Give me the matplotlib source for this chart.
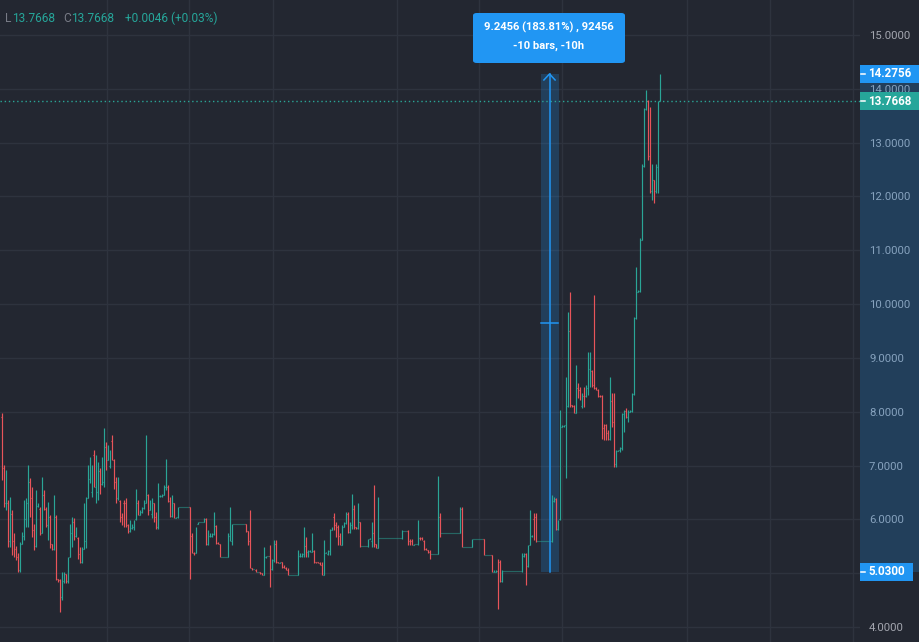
import matplotlib
matplotlib.use("Agg")
import matplotlib.pyplot as plt
import matplotlib.patches as mpatches
import matplotlib.transforms as mtransforms
from matplotlib.collections import LineCollection

plt.rcParams['font.family'] = ['Roboto', 'DejaVu Sans']

# ---------------- data (hourly OHLC bars) ----------------
opens = [
    7.90, 6.95, 6.30, 6.30, 5.60, 6.10, 5.60, 5.45, 5.30, 5.05,
    5.55, 5.70, 6.00, 6.30, 6.70, 6.40, 5.80, 5.50, 6.25, 6.20,
    5.75, 6.45, 6.20, 5.90, 6.05, 5.55, 5.45, 6.05, 4.90, 4.88,
    4.55, 4.85, 4.98, 4.85, 5.30, 5.75, 5.95, 5.70, 5.65, 5.35,
    5.20, 5.45, 5.60, 6.40, 6.75, 6.50, 7.20, 6.60, 6.50, 6.90,
    6.65, 6.70, 7.35, 7.10, 7.00, 7.45, 7.10, 6.70, 6.40, 6.35,
    6.05, 6.30, 6.30, 5.90, 5.78, 5.84, 5.85, 6.00, 6.30, 6.09,
    6.13, 6.21, 6.30, 6.45, 6.18, 6.10, 6.30, 6.05, 5.85, 6.43,
    6.43, 6.46, 6.60, 6.60, 6.35, 6.07, 6.30, 6.03, 6.05, 6.23,
    6.23, 6.23, 6.23, 6.23, 6.23, 5.70, 5.38, 5.37, 5.92, 5.95,
    5.95, 5.95, 6.00, 5.55, 5.69, 5.70, 5.72, 5.88, 5.57, 5.55,
    5.30, 5.30, 5.30, 5.30, 5.70, 5.60, 5.91, 5.91, 5.91, 5.91,
    5.91, 5.91, 5.91, 5.78, 5.60, 5.09, 5.07, 5.06, 5.03, 5.03,
    5.00, 4.97, 5.30, 5.31, 5.31, 5.08, 5.25, 5.55, 5.20, 5.19,
    5.21, 5.12, 5.09, 5.06, 4.96, 4.96, 4.96, 4.96, 4.96, 5.31,
    5.32, 5.36, 5.50, 5.40, 5.41, 5.40, 5.42, 5.20, 5.20, 5.19,
    5.16, 4.97, 5.38, 5.36, 5.42, 5.81, 6.05, 5.90, 5.85, 5.70,
    5.53, 5.86, 5.93, 6.10, 5.76, 5.90, 6.20, 5.86, 5.84, 5.95,
    5.50, 5.50, 5.50, 5.50, 5.64, 5.60, 5.75, 5.54, 5.47, 5.66,
    5.66, 5.66, 5.66, 5.66, 5.66, 5.66, 5.66, 5.66, 5.66, 5.66,
    5.66, 5.79, 5.79, 5.79, 5.60, 5.60, 5.53, 5.55, 5.55, 5.66,
    5.66, 5.60, 5.45, 5.43, 5.40, 5.35, 5.35, 5.35, 5.35, 6.05,
    5.75, 5.75, 5.75, 5.75, 5.75, 5.75, 5.75, 5.75, 5.75, 5.75,
    6.20, 5.49, 5.49, 5.49, 5.49, 5.49, 5.64, 5.64, 5.64, 5.64,
    5.64, 5.64, 5.33, 5.33, 5.33, 5.33, 5.03, 5.03, 5.04, 5.20,
    4.86, 5.04, 5.04, 5.04, 5.04, 5.04, 5.04, 5.04, 5.04, 5.04,
    5.04, 5.31, 5.35, 5.13, 5.52, 5.69, 6.00, 6.05, 5.60, 5.60,
    5.60, 5.60, 5.60, 5.60, 5.60, 5.60, 6.34, 6.38, 5.82, 6.00,
    7.72, 7.73, 7.75, 8.10, 9.50, 8.12, 8.10, 7.98, 8.45, 8.40,
    8.10, 8.30, 8.30, 8.45, 8.80, 8.75, 8.50, 8.45, 8.41, 8.30,
    8.29, 7.70, 7.75, 7.60, 7.50, 8.20, 7.80, 7.02, 7.27, 7.28,
    7.33, 7.95, 8.02, 7.90, 8.00, 8.02, 8.33, 9.74, 10.23, 10.25,
    11.20, 12.56, 13.62, 13.78, 12.75, 12.10, 12.30, 12.10, 12.55, 13.7668,
]
highs = [
    7.97, 7.01, 6.91, 6.36, 6.42, 6.17, 5.74, 5.50, 5.37, 5.58,
    5.77, 6.36, 6.40, 7.01, 6.76, 6.61, 5.92, 6.54, 6.30, 6.23,
    6.79, 6.54, 6.23, 6.33, 6.08, 5.55, 6.45, 6.08, 4.90, 4.90,
    5.03, 5.03, 4.99, 5.30, 5.92, 6.05, 6.02, 5.86, 5.68, 5.49,
    5.49, 6.30, 6.42, 7.01, 7.16, 7.01, 7.29, 7.19, 7.07, 6.95,
    7.16, 7.69, 7.44, 7.38, 7.29, 7.57, 7.13, 6.79, 6.79, 6.36,
    6.11, 6.36, 6.39, 5.92, 5.99, 5.92, 5.99, 6.57, 6.36, 6.17,
    6.23, 6.36, 7.57, 6.48, 6.36, 6.39, 6.30, 6.14, 6.67, 6.45,
    6.48, 6.64, 7.13, 6.64, 6.42, 6.45, 6.30, 6.05, 6.23, 6.23,
    6.23, 6.23, 6.23, 6.23, 6.23, 5.74, 5.40, 5.86, 5.95, 5.95,
    5.95, 6.02, 6.02, 5.80, 5.74, 5.74, 6.14, 5.89, 5.58, 5.55,
    5.30, 5.30, 5.30, 5.74, 6.23, 5.92, 5.91, 5.91, 5.91, 5.91,
    5.91, 5.91, 5.91, 5.78, 6.17, 5.10, 5.07, 5.07, 5.03, 5.03,
    5.01, 5.49, 5.31, 5.31, 5.52, 5.27, 5.61, 5.61, 5.21, 5.21,
    5.21, 5.15, 5.12, 5.09, 4.96, 4.96, 4.96, 4.96, 5.43, 5.37,
    5.37, 5.86, 5.68, 5.43, 5.43, 5.74, 5.43, 5.21, 5.21, 5.21,
    5.21, 5.61, 5.40, 5.43, 5.83, 5.86, 6.11, 5.95, 5.89, 5.74,
    5.89, 5.95, 6.14, 6.14, 5.95, 6.48, 6.26, 5.86, 6.30, 5.95,
    5.50, 5.50, 5.50, 5.64, 5.65, 5.95, 6.63, 5.55, 6.42, 5.66,
    5.66, 5.66, 5.66, 5.66, 5.66, 5.66, 5.66, 5.66, 5.66, 5.66,
    5.80, 5.79, 5.79, 5.80, 5.64, 5.64, 5.55, 5.55, 5.99, 5.68,
    5.68, 5.61, 5.46, 5.43, 5.43, 5.35, 5.35, 5.35, 6.80, 6.11,
    5.75, 5.75, 5.75, 5.75, 5.75, 5.75, 5.75, 5.75, 5.75, 6.23,
    6.23, 5.49, 5.49, 5.49, 5.49, 5.64, 5.64, 5.64, 5.64, 5.64,
    5.64, 5.64, 5.33, 5.33, 5.33, 5.33, 5.05, 5.05, 5.27, 5.24,
    5.05, 5.04, 5.04, 5.04, 5.04, 5.04, 5.04, 5.04, 5.04, 5.04,
    5.37, 5.37, 5.37, 5.52, 6.17, 5.71, 6.11, 6.11, 5.60, 5.60,
    5.60, 5.60, 5.60, 5.60, 5.60, 6.45, 6.42, 6.39, 5.99, 8.03,
    7.75, 7.75, 8.65, 9.86, 10.23, 8.12, 8.12, 8.87, 8.53, 8.46,
    8.34, 8.46, 8.50, 9.11, 9.11, 8.77, 10.17, 8.46, 8.43, 8.31,
    8.31, 7.78, 7.78, 7.66, 8.65, 8.34, 8.34, 7.29, 7.29, 7.35,
    7.97, 8.03, 8.06, 8.03, 8.03, 8.34, 9.76, 10.69, 10.26, 11.22,
    12.60, 13.64, 13.98, 13.80, 13.67, 12.60, 12.30, 12.60, 13.77, 14.2756,
]
lows = [
    6.73, 6.23, 6.17, 5.49, 5.49, 5.34, 5.30, 5.25, 5.03, 5.03,
    5.55, 5.61, 5.85, 5.86, 6.05, 5.68, 5.43, 5.49, 6.23, 5.71,
    5.74, 6.17, 5.86, 5.61, 5.46, 5.43, 5.43, 4.87, 4.84, 4.28,
    4.50, 4.81, 4.81, 4.81, 5.30, 5.49, 5.61, 5.68, 5.27, 5.18,
    5.18, 5.45, 5.46, 6.39, 6.67, 6.42, 6.61, 6.30, 6.36, 6.48,
    6.64, 6.61, 6.91, 7.10, 6.95, 7.10, 6.57, 6.30, 6.36, 5.95,
    5.89, 5.86, 5.86, 5.74, 5.77, 5.83, 5.80, 5.99, 6.08, 6.08,
    6.11, 6.20, 6.30, 6.08, 6.17, 6.02, 5.95, 5.83, 5.83, 6.42,
    6.42, 6.45, 6.54, 6.33, 6.05, 6.05, 6.02, 6.02, 6.02, 6.23,
    6.23, 6.23, 6.23, 6.23, 4.90, 5.37, 5.34, 5.37, 5.92, 5.95,
    5.95, 5.95, 5.52, 5.52, 5.68, 5.68, 5.71, 5.55, 5.55, 5.30,
    5.30, 5.30, 5.30, 5.30, 5.60, 5.52, 5.91, 5.91, 5.91, 5.91,
    5.91, 5.91, 5.77, 5.52, 5.09, 5.06, 5.07, 5.03, 5.03, 4.99,
    4.96, 4.96, 5.29, 5.31, 4.75, 5.06, 5.21, 5.18, 5.18, 5.18,
    5.09, 5.09, 5.06, 4.96, 4.96, 4.96, 4.96, 4.96, 4.96, 5.30,
    5.30, 5.30, 5.30, 5.30, 5.40, 5.40, 5.18, 5.18, 5.18, 5.15,
    4.96, 4.96, 5.37, 5.34, 5.34, 5.80, 5.80, 5.68, 5.52, 5.52,
    5.52, 5.86, 5.92, 5.74, 5.74, 5.83, 5.83, 5.83, 5.83, 5.49,
    5.50, 5.50, 5.50, 5.49, 5.63, 5.49, 5.49, 5.46, 5.46, 5.66,
    5.66, 5.66, 5.66, 5.66, 5.66, 5.66, 5.66, 5.66, 5.66, 5.66,
    5.64, 5.79, 5.79, 5.52, 5.52, 5.52, 5.52, 5.55, 5.52, 5.61,
    5.61, 5.43, 5.43, 5.37, 5.27, 5.35, 5.35, 5.35, 5.35, 5.68,
    5.75, 5.75, 5.75, 5.75, 5.75, 5.75, 5.75, 5.75, 5.75, 5.74,
    5.49, 5.49, 5.49, 5.49, 5.49, 5.49, 5.64, 5.64, 5.64, 5.64,
    5.64, 5.33, 5.33, 5.33, 5.33, 5.02, 5.02, 5.02, 4.34, 4.84,
    4.84, 5.04, 5.04, 5.04, 5.04, 5.04, 5.04, 5.04, 5.04, 5.04,
    5.03, 5.30, 4.78, 5.12, 5.52, 5.68, 5.61, 5.58, 5.60, 5.60,
    5.60, 5.60, 5.60, 5.60, 5.60, 5.58, 6.33, 5.80, 5.80, 5.99,
    7.72, 7.72, 6.76, 8.09, 8.09, 8.09, 7.97, 7.97, 8.25, 8.22,
    8.06, 8.09, 8.28, 8.31, 8.46, 8.46, 8.43, 8.40, 8.28, 8.28,
    7.50, 7.47, 7.47, 7.47, 7.47, 7.72, 6.98, 6.98, 7.27, 7.26,
    7.29, 7.63, 7.88, 7.81, 8.00, 8.00, 8.32, 9.73, 10.23, 10.23,
    11.20, 12.55, 13.60, 12.68, 12.06, 11.93, 11.87, 12.06, 12.06, 13.7668,
]
closes = [
    6.90, 6.30, 6.50, 5.60, 6.30, 5.40, 5.35, 5.30, 5.05, 5.55,
    5.70, 6.20, 6.30, 6.85, 6.10, 5.75, 5.50, 6.30, 6.28, 5.75,
    6.50, 6.25, 5.90, 6.20, 5.55, 5.45, 6.30, 4.95, 4.86, 4.55,
    4.95, 5.00, 4.85, 5.25, 5.80, 5.95, 5.70, 5.80, 5.30, 5.20,
    5.45, 6.20, 6.35, 6.80, 7.00, 6.90, 6.65, 7.00, 6.95, 6.55,
    7.10, 7.30, 6.95, 7.30, 7.25, 7.15, 6.65, 6.35, 6.70, 6.00,
    5.90, 5.90, 5.88, 5.76, 5.95, 5.90, 5.97, 6.40, 6.10, 6.15,
    6.20, 6.30, 6.45, 6.10, 6.30, 6.35, 6.00, 5.85, 6.45, 6.45,
    6.47, 6.60, 6.70, 6.35, 6.07, 6.30, 6.05, 6.05, 6.22, 6.23,
    6.23, 6.23, 6.23, 6.23, 5.40, 5.38, 5.36, 5.85, 5.95, 5.95,
    5.95, 6.00, 5.55, 5.75, 5.72, 5.73, 5.90, 5.57, 5.55, 5.31,
    5.30, 5.30, 5.30, 5.70, 5.95, 5.91, 5.91, 5.91, 5.91, 5.91,
    5.91, 5.91, 5.78, 5.55, 5.10, 5.07, 5.07, 5.03, 5.03, 5.00,
    4.97, 5.30, 5.31, 5.31, 5.08, 5.25, 5.55, 5.20, 5.19, 5.21,
    5.12, 5.09, 5.06, 4.96, 4.96, 4.96, 4.96, 4.96, 5.35, 5.36,
    5.36, 5.50, 5.40, 5.42, 5.43, 5.42, 5.20, 5.19, 5.18, 5.16,
    4.97, 5.40, 5.40, 5.42, 5.80, 5.85, 5.82, 5.70, 5.55, 5.53,
    5.85, 5.93, 6.10, 5.76, 5.90, 6.20, 5.85, 5.84, 5.95, 5.50,
    5.50, 5.50, 5.50, 5.64, 5.65, 5.70, 5.55, 5.47, 5.66, 5.66,
    5.66, 5.66, 5.66, 5.66, 5.66, 5.66, 5.66, 5.66, 5.66, 5.66,
    5.79, 5.79, 5.79, 5.60, 5.53, 5.55, 5.55, 5.55, 5.65, 5.62,
    5.62, 5.45, 5.43, 5.38, 5.35, 5.35, 5.35, 5.35, 5.75, 5.75,
    5.75, 5.75, 5.75, 5.75, 5.75, 5.75, 5.75, 5.75, 5.75, 6.20,
    5.50, 5.49, 5.49, 5.49, 5.49, 5.64, 5.64, 5.64, 5.64, 5.64,
    5.64, 5.33, 5.33, 5.33, 5.33, 5.03, 5.05, 5.04, 5.00, 4.86,
    5.04, 5.04, 5.04, 5.04, 5.04, 5.04, 5.04, 5.04, 5.04, 5.04,
    5.35, 5.36, 5.00, 5.50, 5.72, 5.71, 5.65, 5.60, 5.60, 5.60,
    5.60, 5.60, 5.60, 5.60, 5.60, 6.35, 6.40, 5.82, 5.98, 7.75,
    7.74, 7.75, 8.10, 9.50, 8.12, 8.10, 7.98, 8.45, 8.28, 8.24,
    8.30, 8.12, 8.45, 8.80, 8.90, 8.50, 8.45, 8.41, 8.30, 8.29,
    7.55, 7.50, 7.50, 7.48, 8.20, 7.75, 7.02, 7.27, 7.29, 7.33,
    7.95, 8.00, 7.90, 8.00, 8.02, 8.32, 9.74, 10.24, 10.25, 11.20,
    12.55, 13.60, 13.80, 12.75, 12.10, 12.50, 11.90, 12.55, 13.7622, 13.7668,
]

price_ticks = [4, 5, 6, 7, 8, 9, 10, 11, 12, 13, 14, 15]
hidden_tick_labels = [5]  # covered by the 5.0300 marker in the reference
time_grid = [52.5, 93.5, 135.5, 197.5, 238.5, 280, 342.5, 384, 425.5]  # bar-index positions of time grid

last_price = 13.7668
measure_low = 5.03
measure_high = 14.2756
measure_start_bar = 269.5
measure_end_bar = 278.5
measure_text_1 = "9.2456 (183.81%) , 92456"
measure_text_2 = "-10 bars, -10h"

# ---------------- style ----------------
W, H = 919, 642
BG = '#232731'
GRID = '#2e333e'
UP = '#2aa596'
DOWN = '#e8545a'
BLUE = '#2196f3'
AXTXT = '#a3a6af'

fig = plt.figure(figsize=(W / 100, H / 100), dpi=100, facecolor=BG)
plot_w = 860
ax = fig.add_axes([0, 0, plot_w / W, 1])
ax.set_facecolor(BG)
for s in ax.spines.values():
    s.set_visible(False)

ppu = 592 / 11.0  # pixels per price unit
ax.set_ylim(4 - (H - 627) / ppu, 15 + 35 / ppu)
# 2 px per bar, bars centred on pixel centres
ax.set_xlim(-0.75, plot_w / 2 - 0.75)

# grid
ax.set_yticks(price_ticks)
ax.set_yticklabels(["" if v in hidden_tick_labels else f"{v:.4f}" for v in price_ticks])
ax.set_xticks(time_grid)
ax.set_xticklabels([])
ax.grid(True, color=GRID, lw=1.0)
ax.set_axisbelow(True)
ax.yaxis.tick_right()
ax.tick_params(axis='y', length=0, pad=6.5, labelsize=8.2, labelcolor=AXTXT)
ax.tick_params(axis='x', length=0)

# measure highlight box (behind bars)
ax.add_patch(mpatches.Rectangle((measure_start_bar, measure_low),
                                measure_end_bar - measure_start_bar,
                                measure_high - measure_low,
                                facecolor=BLUE, alpha=0.22, edgecolor='none', zorder=1))
mid_x = (measure_start_bar + measure_end_bar) / 2
ax.plot([mid_x, mid_x], [measure_low, measure_high], color=BLUE, lw=1.1, zorder=4)
mid_p = (measure_low + measure_high) / 2
ax.plot([measure_start_bar + 0.3, measure_end_bar - 0.3], [mid_p, mid_p], color=BLUE, lw=1.1, zorder=4)
ah = 6 / ppu
ax.plot([mid_x - 2.8, mid_x, mid_x + 2.8], [measure_high - ah, measure_high, measure_high - ah],
        color=BLUE, lw=1.1, zorder=4)

# OHLC bars
segs, cols = [], []
for i, (o, h, l, c) in enumerate(zip(opens, highs, lows, closes)):
    col = UP if c >= o else DOWN
    segs.append([(i, l), (i, h)])
    segs.append([(i - 0.22, o), (i, o)])
    segs.append([(i, c), (i + 0.22, c)])
    cols += [col, col, col]
ax.add_collection(LineCollection(segs, colors=cols, linewidths=0.85, capstyle='butt', zorder=3))

# last price dotted line
ax.axhline(last_price, color=UP, lw=1.0, ls=(0, (1, 2)), zorder=2)

# price-scale highlight band and labels
bt = mtransforms.blended_transform_factory(fig.transFigure, ax.transData)
ax.add_patch(mpatches.Rectangle((860 / W, measure_low), 59 / W, measure_high - measure_low,
                                transform=bt, facecolor=BLUE, alpha=0.22, edgecolor='none',
                                clip_on=False, zorder=5))

box_h = 18 / ppu


def price_label(val, fc, right_px):
    ax.add_patch(mpatches.Rectangle((860 / W, val - box_h / 2), (right_px - 860) / W, box_h,
                                    transform=bt, facecolor=fc, edgecolor='none',
                                    clip_on=False, zorder=7))
    ax.plot([861 / W, 865 / W], [val, val], transform=bt, color='white', lw=1.1,
            clip_on=False, zorder=9)
    ax.text(868 / W, val, f"{val:.4f}", transform=bt, ha='left', va='center',
            fontsize=8.4, fontweight='bold', color='white', clip_on=False, zorder=8)


price_label(measure_high, BLUE, 919)
price_label(last_price, '#26a69a', 919)
price_label(measure_low, BLUE, 913)

# header text
hy = 1 - 18 / H
fs_h = 8.6
fig.text(5 / W, hy, "L", color='#787b86', fontsize=fs_h, va='center')
fig.text(12 / W, hy, f"{lows[-1]:.4f}", color='#26a69a', fontsize=fs_h, va='center')
fig.text(63 / W, hy, "C", color='#787b86', fontsize=fs_h, va='center')
fig.text(71 / W, hy, f"{closes[-1]:.4f}", color='#26a69a', fontsize=fs_h, va='center')
chg = closes[-1] - closes[-2]
fig.text(125 / W, hy, f"+{chg:.4f} (+{chg / closes[-2] * 100:.2f}%)", color='#26a69a',
         fontsize=fs_h, va='center')

# measure tooltip
tb = mpatches.FancyBboxPatch((473 / W, 1 - 63 / H), 152 / W, 50 / H,
                             boxstyle="round,pad=0,rounding_size=0.004",
                             transform=fig.transFigure, facecolor=BLUE, edgecolor='none', zorder=10)
fig.patches.append(tb)
fig.text(549 / W, 1 - 27 / H, measure_text_1, color='white', fontsize=8.1, fontweight='bold',
         ha='center', va='center', zorder=11)
fig.text(549 / W, 1 - 46 / H, measure_text_2, color='white', fontsize=8.1, fontweight='bold',
         ha='center', va='center', zorder=11)

fig.savefig("out.png", dpi=100, facecolor=BG)
